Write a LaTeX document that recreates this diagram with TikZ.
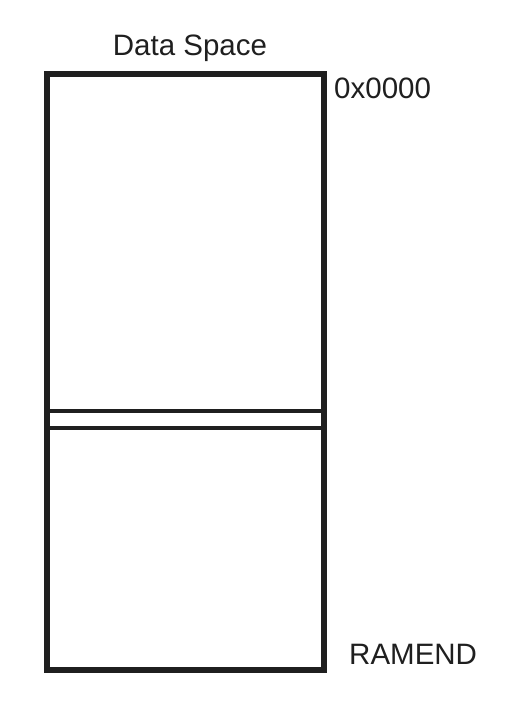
\documentclass[tikz,border=0pt]{standalone}
\usepackage{fontspec}
\setmainfont{Liberation Sans}
\usetikzlibrary{positioning}

\tikzset{
    memlabel/.style={inner sep=0pt, font=\fontsize{29.5}{31}\selectfont, text=black!88},
    divider/.style={line width=3.6pt, draw=black!88}
}

\begin{document}
\begin{tikzpicture}[x=1pt,y=1pt]
            \useasboundingbox (0,0) rectangle (506,707);
            \node[rectangle, draw=black!88, line width=5.5pt, minimum width=277pt, minimum height=596pt, inner sep=0pt] (ram) at (185.5,335) {};
            \node[memlabel, anchor=base] (title) at (190,651) {Data Space};
            \node[memlabel, anchor=base west] (start) at (334,608.5) {0x0000};
            \node[memlabel, anchor=base west] (end) at (349,42) {RAMEND};
            \draw[divider] ([yshift=-39pt]ram.west) -- ([yshift=-39pt]ram.east);
            \draw[divider] ([yshift=-56pt]ram.west) -- ([yshift=-56pt]ram.east);
        \end{tikzpicture}
\end{document}
